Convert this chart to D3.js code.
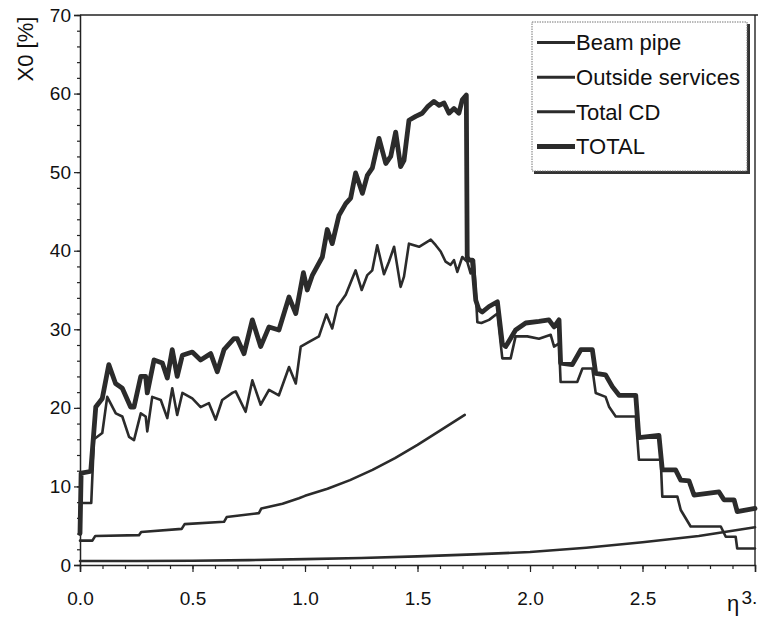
<!DOCTYPE html>
<html>
<head>
<meta charset="utf-8">
<script src="https://cdn.jsdelivr.net/npm/d3@7"></script>
<style>
  html, body { margin: 0; padding: 0; background: #fff; }
  svg { display: block; }
  text { font-family: "Liberation Sans", Arial, Helvetica, sans-serif; fill: #111; }
</style>
</head>
<body>
<svg id="chart" width="758" height="619"></svg>
<script>
// ---------- DATA ----------
const seriesNames = ["Beam pipe", "Outside services", "Total CD", "TOTAL"];

const beamPipe = [
  [0.00, 0.5], [0.25, 0.5], [0.50, 0.55], [0.75, 0.62], [1.00, 0.75], [1.25, 0.9],
  [1.50, 1.1], [1.75, 1.35], [2.00, 1.65], [2.25, 2.2], [2.50, 2.9], [2.75, 3.7], [3.00, 4.8]
];

const totalCD = [
  [0.000, 3.1], [0.055, 3.1], [0.068, 3.7], [0.262, 3.8], [0.272, 4.2], [0.452, 4.6],
  [0.465, 5.2], [0.640, 5.5], [0.652, 6.1], [0.795, 6.6], [0.806, 7.2], [0.900, 7.8],
  [0.973, 8.5], [1.000, 8.8], [1.100, 9.7], [1.200, 10.8], [1.300, 12.1], [1.400, 13.6],
  [1.500, 15.3], [1.600, 17.1], [1.710, 19.1]
];

const outsideServices = [
  [0.000, 7.4], [0.005, 7.9], [0.050, 7.9], [0.062, 16.0], [0.099, 16.8], [0.121, 21.4],
  [0.159, 19.3], [0.188, 18.9], [0.218, 16.3], [0.240, 15.9], [0.270, 19.3], [0.292, 18.9],
  [0.299, 17.0], [0.321, 21.4], [0.359, 21.0], [0.388, 18.7], [0.410, 22.5], [0.432, 19.1],
  [0.455, 21.9], [0.499, 21.2], [0.536, 20.1], [0.573, 20.6], [0.603, 18.5], [0.632, 21.0],
  [0.677, 21.9], [0.692, 22.1], [0.736, 19.5], [0.766, 23.5], [0.803, 20.4], [0.840, 22.3],
  [0.884, 21.6], [0.929, 25.2], [0.959, 23.1], [0.981, 27.8], [1.018, 28.4], [1.062, 29.1],
  [1.095, 31.9], [1.121, 30.1], [1.144, 32.9], [1.181, 34.4], [1.225, 37.5], [1.252, 35.0],
  [1.277, 36.9], [1.299, 37.5], [1.321, 40.7], [1.351, 37.0], [1.373, 38.6], [1.396, 40.5],
  [1.425, 35.4], [1.440, 36.7], [1.462, 40.9], [1.507, 40.5], [1.559, 41.4], [1.581, 40.7],
  [1.603, 39.9], [1.625, 38.6], [1.647, 38.2], [1.662, 38.8], [1.677, 37.3], [1.699, 39.2],
  [1.721, 38.6], [1.736, 37.1], [1.751, 38.8], [1.766, 30.9], [1.784, 30.8], [1.818, 31.2],
  [1.855, 32.0], [1.877, 26.3], [1.914, 26.3], [1.936, 29.1], [1.988, 29.1], [2.040, 28.8],
  [2.092, 29.3], [2.107, 27.8], [2.129, 28.2], [2.136, 23.3], [2.210, 23.3], [2.233, 25.0],
  [2.277, 25.0], [2.292, 21.9], [2.336, 21.4], [2.352, 20.1], [2.381, 18.9], [2.470, 18.9],
  [2.484, 13.4], [2.581, 13.4], [2.588, 8.7], [2.655, 8.7], [2.670, 7.0], [2.714, 4.9],
  [2.848, 4.9], [2.870, 3.6], [2.914, 3.6], [2.921, 2.1], [3.000, 2.1]
];

const total = [
  [0.000, 4.0], [0.005, 11.7], [0.045, 11.9], [0.048, 12.0], [0.070, 20.1], [0.099, 21.2],
  [0.128, 25.5], [0.158, 23.1], [0.188, 22.5], [0.225, 20.1], [0.240, 20.1], [0.270, 24.0],
  [0.292, 24.0], [0.299, 21.9], [0.329, 26.1], [0.366, 25.7], [0.388, 23.8], [0.410, 27.4],
  [0.432, 24.0], [0.455, 26.7], [0.499, 27.1], [0.536, 26.1], [0.581, 26.9], [0.610, 24.6],
  [0.640, 27.4], [0.684, 28.8], [0.699, 28.8], [0.729, 26.9], [0.766, 31.2], [0.803, 27.8],
  [0.840, 30.3], [0.884, 29.9], [0.929, 34.1], [0.959, 32.0], [0.993, 37.2], [1.010, 35.0],
  [1.033, 36.9], [1.077, 39.2], [1.099, 42.7], [1.121, 40.9], [1.151, 44.5], [1.181, 46.0],
  [1.203, 46.7], [1.225, 49.9], [1.255, 47.3], [1.277, 49.6], [1.299, 50.5], [1.329, 54.3],
  [1.359, 51.1], [1.381, 52.0], [1.403, 55.1], [1.425, 50.7], [1.440, 51.5], [1.462, 56.6],
  [1.492, 57.1], [1.521, 57.5], [1.544, 58.3], [1.573, 59.0], [1.596, 58.5], [1.618, 58.8],
  [1.640, 57.5], [1.662, 58.1], [1.684, 57.5], [1.699, 59.2], [1.717, 59.8], [1.721, 39.2],
  [1.729, 38.8], [1.744, 38.8], [1.759, 33.7], [1.773, 32.5], [1.788, 32.2], [1.818, 32.9],
  [1.855, 33.5], [1.877, 28.2], [1.892, 27.8], [1.936, 29.9], [1.981, 30.8], [2.040, 31.0],
  [2.084, 31.2], [2.107, 30.3], [2.129, 31.2], [2.136, 25.7], [2.188, 25.5], [2.226, 27.4],
  [2.277, 27.4], [2.292, 24.4], [2.336, 24.2], [2.366, 22.7], [2.396, 21.6], [2.470, 21.6],
  [2.484, 16.2], [2.573, 16.5], [2.588, 12.1], [2.647, 12.1], [2.670, 10.8], [2.707, 10.7],
  [2.729, 8.9], [2.840, 9.3], [2.862, 8.3], [2.907, 8.3], [2.921, 6.8], [3.000, 7.2]
];

const xMajorTicks = [0, 0.5, 1.0, 1.5, 2.0, 2.5, 3.0];
const xTickLabels = ["0.0", "0.5", "1.0", "1.5", "2.0", "2.5", "3."];
const yMajorTicks = [0, 10, 20, 30, 40, 50, 60, 70];
const yTickLabels = ["0", "10", "20", "30", "40", "50", "60", "70"];
const xTitle = "η";
const yTitle = "X0 [%]";

// ---------- CHART ----------
const svg = d3.select("#chart");
const x = d3.scaleLinear().domain([0, 3]).range([80, 755]);
const y = d3.scaleLinear().domain([0, 70]).range([565, 15]);
const ink = "#222";

// frame (top & right)
svg.append("line").attr("x1", 80).attr("x2", 758).attr("y1", y(70)).attr("y2", y(70))
  .attr("stroke", ink).attr("stroke-width", 1.4);
svg.append("line").attr("x1", x(3)).attr("x2", x(3)).attr("y1", y(70)).attr("y2", y(0))
  .attr("stroke", ink).attr("stroke-width", 1.4);

// y axis minor + major
const yMinor = svg.append("g").attr("transform", `translate(${x(0)},0)`)
  .call(d3.axisLeft(y).tickValues(d3.range(0, 71, 2)).tickSize(3).tickFormat(""));
yMinor.select(".domain").remove();
const yAx = svg.append("g").attr("transform", `translate(${x(0)},0)`)
  .call(d3.axisLeft(y).tickValues(yMajorTicks).tickSize(6).tickPadding(3)
    .tickFormat((d, i) => yTickLabels[i]));
yAx.select(".domain").attr("stroke-width", 1.5);

// x axis minor + major
const xMinor = svg.append("g").attr("transform", `translate(0,${y(0)})`)
  .call(d3.axisBottom(x).tickValues(d3.range(0, 31).map(i => i / 10)).tickSize(4).tickFormat(""));
xMinor.select(".domain").remove();
const xAx = svg.append("g").attr("transform", `translate(0,${y(0)})`)
  .call(d3.axisBottom(x).tickValues(xMajorTicks).tickSize(7).tickPadding(20)
    .tickFormat((d, i) => xTickLabels[i]));
xAx.select(".domain").attr("stroke-width", 1.5);
// last label ("3.") is shown truncated in the reference: anchor it so it fits
xAx.selectAll(".tick text").filter(d => d === 3).attr("text-anchor", "start").attr("x", -14).attr("dy", "0.62em");

svg.selectAll(".tick line").attr("stroke", ink).attr("stroke-width", 1.2);
svg.selectAll(".domain").attr("stroke", ink);
svg.selectAll(".tick text").attr("font-size", 19).attr("fill", "#111")
  .attr("font-family", "'Liberation Sans', Arial, sans-serif");

// axis titles
svg.append("text").attr("x", 727).attr("y", 611).attr("font-size", 22).text(xTitle);
svg.append("text").attr("transform", "translate(33,49) rotate(-90)")
  .attr("text-anchor", "middle").attr("font-size", 22).text(yTitle);

// lines
const line = d3.line().x(d => x(d[0])).y(d => y(d[1])).curve(d3.curveLinear);
const series = [
  { data: beamPipe, w: 2.6 },
  { data: totalCD, w: 2.6 },
  { data: outsideServices, w: 2.6 },
  { data: total, w: 4.8 }
];
svg.append("g").selectAll("path").data(series).join("path")
  .attr("d", d => line(d.data))
  .attr("fill", "none")
  .attr("stroke", "#2b2b2b")
  .attr("stroke-width", d => d.w)
  .attr("stroke-linejoin", "round")
  .attr("stroke-linecap", "round");

// legend
const lg = svg.append("g");
lg.append("rect").attr("x", 534).attr("y", 24).attr("width", 216).attr("height", 150).attr("fill", "#333");
lg.append("rect").attr("x", 532).attr("y", 22).attr("width", 215).attr("height", 149)
  .attr("fill", "#fff").attr("stroke", "#777").attr("stroke-width", 1).attr("stroke-dasharray", "1.5,1");
const legendRows = [
  { name: seriesNames[0], w: 3 },
  { name: seriesNames[1], w: 3 },
  { name: seriesNames[2], w: 3 },
  { name: seriesNames[3], w: 5 }
];
const rowY = d3.scalePoint().domain(seriesNames).range([42.5, 146.5]);
const rows = lg.selectAll("g.row").data(legendRows).join("g").attr("class", "row")
  .attr("transform", d => `translate(0,${rowY(d.name)})`);
rows.append("line").attr("x1", 537).attr("x2", 575).attr("y1", 0).attr("y2", 0)
  .attr("stroke", "#2b2b2b").attr("stroke-width", d => d.w);
rows.append("text").attr("x", 576).attr("y", 0).attr("dy", "0.36em")
  .attr("font-size", 22).attr("textLength", d => d.name === "Outside services" ? 164 : null)
  .text(d => d.name);
</script>
</body>
</html>
